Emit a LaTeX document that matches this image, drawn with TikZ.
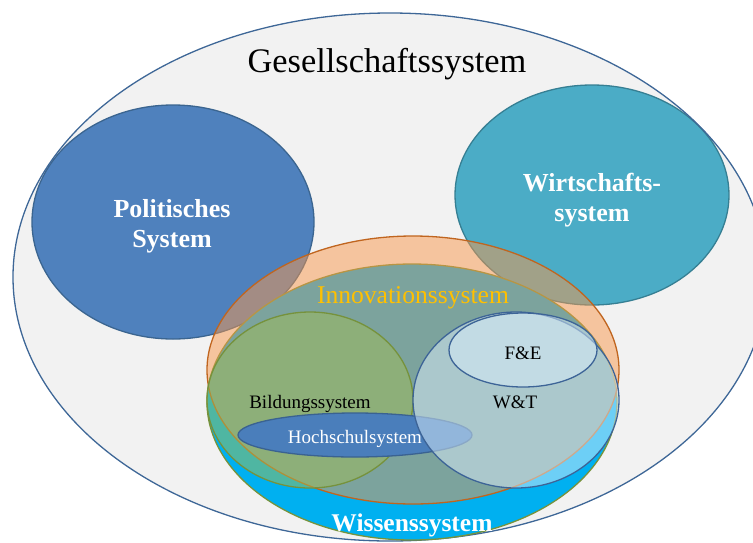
\documentclass[tikz,border=0pt]{standalone}
\usepackage{fontspec}
\setmainfont{Liberation Serif}

\definecolor{gesfill}{HTML}{F2F2F2}
\definecolor{gesline}{HTML}{3E6797}
\definecolor{polfill}{HTML}{4F81BD}
\definecolor{polline}{HTML}{3B6590}
\definecolor{wirfill}{HTML}{4BACC6}
\definecolor{wirline}{HTML}{367F93}
\definecolor{wisfill}{HTML}{00B0F0}
\definecolor{wisline}{HTML}{77933C}
\definecolor{innfill}{HTML}{F8984C}
\definecolor{innline}{HTML}{C0651F}
\definecolor{inntext}{HTML}{FFC000}
\definecolor{bilfill}{HTML}{9EBC56}
\definecolor{billine}{HTML}{76923C}
\definecolor{hocfill}{HTML}{4A7EBB}
\definecolor{hocline}{HTML}{3A6291}
\definecolor{wtfill}{HTML}{DAEEFC}
\definecolor{wtline}{HTML}{3D6497}

\begin{document}
\begin{tikzpicture}[x=1pt,y=-1pt,
		sys/.style={line width=1.3pt},
		halb/.style={sys,fill opacity=0.5},
		big/.style={font=\fontsize{26}{30}\selectfont\bfseries,text=white,align=center},
		small/.style={font=\fontsize{19}{22}\selectfont,anchor=base}]
		\useasboundingbox (0,0) rectangle (753,542);
		\clip (0,0) rectangle (753,542);
		% Gesellschaft, Politik, Wirtschaft
		\fill[gesfill] (390,277) ellipse [x radius=377pt, y radius=264pt];
		\foreach \cx/\cy/\rx/\ry/\f/\l in
		{
		173/222/141/117/polfill/polline,
		592/195/137/110/wirfill/wirline}
		\draw[sys,draw=\l,fill=\f] (\cx,\cy) ellipse [x radius=\rx pt, y radius=\ry pt];
		\draw[sys,gesline] (390,277) ellipse [x radius=377pt, y radius=264pt];
		% Wissen und Innovation
		\draw[sys,draw=wisline,fill=wisfill] (412,402) ellipse [x radius=205pt, y radius=138pt];
		\draw[halb,draw=innline,fill=innfill] (413,370) ellipse [x radius=206pt, y radius=134pt];
		\draw[halb,draw=billine,fill=bilfill] (310,400) ellipse [x radius=103pt, y radius=88pt];
		\draw[sys,draw=hocline,fill=hocfill] (355,435) ellipse [x radius=117pt, y radius=22pt];
		\draw[halb,draw=wtline,fill=wtfill] (516,400) ellipse [x radius=103pt, y radius=88pt];
		\draw[halb,draw=wtline,fill=wtfill] (523,350) ellipse [x radius=74pt, y radius=37pt];
		% Beschriftung
		\node[font=\fontsize{34.4}{40}\selectfont,anchor=base] (gesellschaft) at (387,72) {Gesellschaftssystem};
		\node[big] (politik) at (172,226) {Politisches\\System};
		\node[big] (wirtschaft) at (592,200) {Wirtschafts-\\system};
		\node[font=\fontsize{25.6}{30}\selectfont,text=inntext,anchor=base] (innovation) at (413,303) {Innovationssystem};
		\node[font=\fontsize{25.5}{30}\selectfont\bfseries,text=white,anchor=base] (wissen) at (412,531) {Wissenssystem};
		\node[small] (bildung) at (310,408) {Bildungssystem};
		\node[small,text=white] (hochschule) at (355,443) {Hochschulsystem};
		\node[small] (fue) at (523,359) {F\&E};
		\node[small] (wut) at (515,408) {W\&T};
	\end{tikzpicture}
\end{document}
